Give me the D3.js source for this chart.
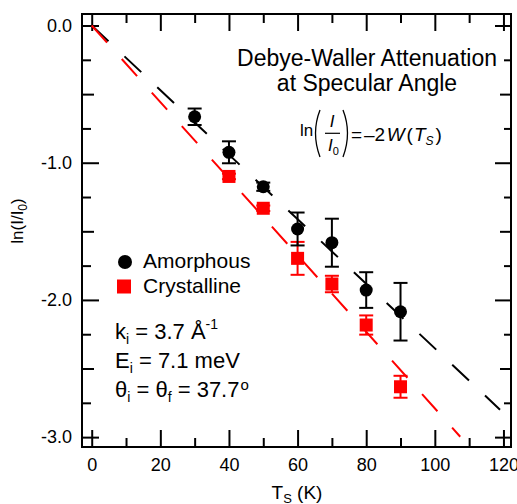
<!DOCTYPE html>
<html>
<head>
<meta charset="utf-8">
<script src="https://cdn.jsdelivr.net/npm/d3@7"></script>
<style>
  body { margin: 0; background: #fff; }
  svg { display: block; font-family: "Liberation Sans", Arial, sans-serif; }
</style>
</head>
<body>
<svg id="chart" width="517" height="504"></svg>
<script>
// data
const amorphousT = [30, 40, 50, 60, 70, 80, 90];
const amorphousY = [-0.665, -0.924, -1.175, -1.483, -1.583, -1.928, -2.086];
const amorphousErr = [0.06, 0.08, 0.03, 0.12, 0.175, 0.13, 0.21];

const crystallineT = [40, 50, 60, 70, 80, 90];
const crystallineY = [-1.10, -1.332, -1.697, -1.884, -2.183, -2.633];
const crystallineErr = [0.02, 0.02, 0.12, 0.06, 0.07, 0.08];

// linear fits through the origin
const amorphousFit = [[0, 0], [119, -2.80]];
const crystallineFit = [[0, 0], [107.4, -2.997]];

const xMajor = [0, 20, 40, 60, 80, 100, 120];
const xMinor = [10, 30, 50, 70, 90, 110];
const yMajor = [0, -1, -2, -3];
const yHalf = [-0.5, -1.5, -2.5];
const yQuarter = [-0.25, -0.75, -1.25, -1.75, -2.25, -2.75];

const plotL = 82, plotR = 511, plotT = 14, plotB = 447;

const svg = d3.select("#chart");

const x = d3.scaleLinear().domain([-2.83, 122.2]).range([plotL, plotR]);
const y = d3.scaleLinear().domain([-3.072, 0.084]).range([plotB, plotT]);

// ticks on all four sides, pointing inward
function addTicks(orient, values, size, labels) {
  let ax, tx = 0, ty = 0;
  if (orient == "bottom") { ax = d3.axisBottom(x); ty = plotB; }
  else if (orient == "top") { ax = d3.axisTop(x); ty = plotT; }
  else if (orient == "left") { ax = d3.axisLeft(y); tx = plotL; }
  else { ax = d3.axisRight(y); tx = plotR; }

  ax.tickValues(values)
    .tickSizeInner(-size)
    .tickSizeOuter(0)
    .tickPadding(orient == "bottom" ? 11.5 : 10)
    .tickFormat(labels ? (orient == "bottom" ? d3.format("d") : d => d.toFixed(1)) : "");

  const g = svg.append("g")
    .attr("transform", "translate(" + tx + "," + ty + ")")
    .call(ax);
  g.select(".domain").remove();
  g.selectAll(".tick line").attr("stroke", "#000").attr("stroke-width", 2);
  g.selectAll(".tick text")
    .attr("fill", "#000")
    .style("font-size", "18px")
    .style("font-family", "'Liberation Sans', Arial, sans-serif");
}

addTicks("bottom", xMajor, 17, true);
addTicks("bottom", xMinor, 9, false);
addTicks("top", xMajor, 17, false);
addTicks("top", xMinor, 9, false);
addTicks("left", yMajor, 17, true);
addTicks("left", yHalf, 12, false);
addTicks("left", yQuarter, 9, false);
addTicks("right", yMajor, 16, false);
addTicks("right", yHalf, 11, false);
addTicks("right", yQuarter, 7, false);

svg.append("rect")
  .attr("x", plotL).attr("y", plotT)
  .attr("width", plotR - plotL).attr("height", plotB - plotT)
  .attr("fill", "none").attr("stroke", "#000").attr("stroke-width", 2);

// fit lines
const line = d3.line().x(d => x(d[0])).y(d => y(d[1]));
svg.append("path").datum(amorphousFit)
  .attr("d", line).attr("fill", "none")
  .attr("stroke", "#000").attr("stroke-width", 2)
  .attr("stroke-dasharray", "23,22");
svg.append("path").datum(crystallineFit)
  .attr("d", line).attr("fill", "none")
  .attr("stroke", "#f00").attr("stroke-width", 2)
  .attr("stroke-dasharray", "23,22");

function errorBars(ts, vals, errs, color) {
  const g = svg.append("g").attr("stroke", color).attr("stroke-width", 2);
  ts.forEach((t, i) => {
    const cx = x(t), y1 = y(vals[i] + errs[i]), y2 = y(vals[i] - errs[i]);
    g.append("line").attr("x1", cx).attr("x2", cx).attr("y1", y1).attr("y2", y2);
    g.append("line").attr("x1", cx - 7).attr("x2", cx + 7).attr("y1", y1).attr("y2", y1);
    g.append("line").attr("x1", cx - 7).attr("x2", cx + 7).attr("y1", y2).attr("y2", y2);
  });
}

errorBars(crystallineT, crystallineY, crystallineErr, "#f00");
svg.append("g").selectAll("rect")
  .data(crystallineT)
  .join("rect")
  .attr("x", (d) => x(d) - 6.5)
  .attr("y", (d, i) => y(crystallineY[i]) - 6.5)
  .attr("width", 13).attr("height", 13)
  .attr("fill", "#f00");

errorBars(amorphousT, amorphousY, amorphousErr, "#000");
svg.append("g").selectAll("circle")
  .data(amorphousT)
  .join("circle")
  .attr("cx", d => x(d))
  .attr("cy", (d, i) => y(amorphousY[i]))
  .attr("r", 6.5)
  .attr("fill", "#000");

// title
svg.append("text").attr("x", 367).attr("y", 65.7).attr("text-anchor", "middle")
  .style("font-size", "23px").text("Debye-Waller Attenuation");
svg.append("text").attr("x", 367).attr("y", 90.7).attr("text-anchor", "middle")
  .style("font-size", "23px").text("at Specular Angle");

// formula ln(I/I0) = -2W(Ts)
const f = svg.append("g").style("font-size", "17px");
f.append("text").attr("x", 300).attr("y", 136).text("ln");
f.append("path").attr("d", "M320,110 Q311,133 320,157")
  .attr("fill", "none").attr("stroke", "#000").attr("stroke-width", 1.3);
f.append("path").attr("d", "M343,110 Q352,133 343,157")
  .attr("fill", "none").attr("stroke", "#000").attr("stroke-width", 1.3);
f.append("text").attr("x", 332).attr("y", 127).attr("text-anchor", "middle")
  .style("font-style", "italic").text("I");
f.append("line").attr("x1", 325).attr("x2", 340).attr("y1", 133.3).attr("y2", 133.3)
  .attr("stroke", "#000").attr("stroke-width", 1.2);
const den = f.append("text").attr("x", 328).attr("y", 151);
den.append("tspan").style("font-style", "italic").text("I");
den.append("tspan").attr("dy", 4).style("font-size", "11px").text("0");
const rhs = f.append("text").attr("y", 141).style("font-size", "19px");
rhs.append("tspan").attr("x", 351).text("=");
rhs.append("tspan").attr("x", 364).text("\u20132");
rhs.append("tspan").attr("dx", 1.5).style("font-style", "italic").text("W");
rhs.append("tspan").attr("dx", 2).text("(");
rhs.append("tspan").attr("dx", 1).style("font-style", "italic").text("T");
rhs.append("tspan").attr("dy", 4).style("font-size", "12px").style("font-style", "italic").text("S");
rhs.append("tspan").attr("dx", 2).attr("dy", -4).text(")");

// legend
svg.append("circle").attr("cx", 125).attr("cy", 262).attr("r", 7).attr("fill", "#000");
svg.append("rect").attr("x", 117).attr("y", 279.5).attr("width", 14).attr("height", 14).attr("fill", "#f00");
svg.append("text").attr("x", 143).attr("y", 268).style("font-size", "21px").text("Amorphous");
svg.append("text").attr("x", 143).attr("y", 293).style("font-size", "21px").text("Crystalline");

// beam parameters
const p = svg.append("g").style("font-size", "22px");
const k = p.append("text").attr("x", 115).attr("y", 339);
k.append("tspan").text("k");
k.append("tspan").attr("dy", 5).style("font-size", "14px").text("i");
k.append("tspan").attr("dy", -5).text(" = 3.7 \u00c5");
k.append("tspan").attr("dy", -10).style("font-size", "14px").text("-1");
const e = p.append("text").attr("x", 115).attr("y", 368);
e.append("tspan").text("E");
e.append("tspan").attr("dy", 5).style("font-size", "14px").text("i");
e.append("tspan").attr("dy", -5).text(" = 7.1 meV");
const th = p.append("text").attr("x", 115).attr("y", 397);
th.append("tspan").text("\u03b8");
th.append("tspan").attr("dy", 5).style("font-size", "14px").text("i");
th.append("tspan").attr("dy", -5).text(" = \u03b8");
th.append("tspan").attr("dy", 5).style("font-size", "14px").text("f");
th.append("tspan").attr("dy", -5).text(" = 37.7");
th.append("tspan").attr("dx", 1).attr("dy", -7).style("font-size", "15px").text("o");

// axis titles
const yt = svg.append("text")
  .attr("transform", "translate(23,221) rotate(-90)")
  .attr("text-anchor", "middle")
  .style("font-size", "17px");
yt.append("tspan").text("ln(I/I");
yt.append("tspan").attr("dy", 4).style("font-size", "12px").text("0");
yt.append("tspan").attr("dy", -4).text(")");

const xt = svg.append("text").attr("x", 297).attr("y", 499)
  .attr("text-anchor", "middle").style("font-size", "19px");
xt.append("tspan").text("T");
xt.append("tspan").attr("dy", 4).style("font-size", "13px").text("S");
xt.append("tspan").attr("dy", -4).text(" (K)");
</script>
</body>
</html>
